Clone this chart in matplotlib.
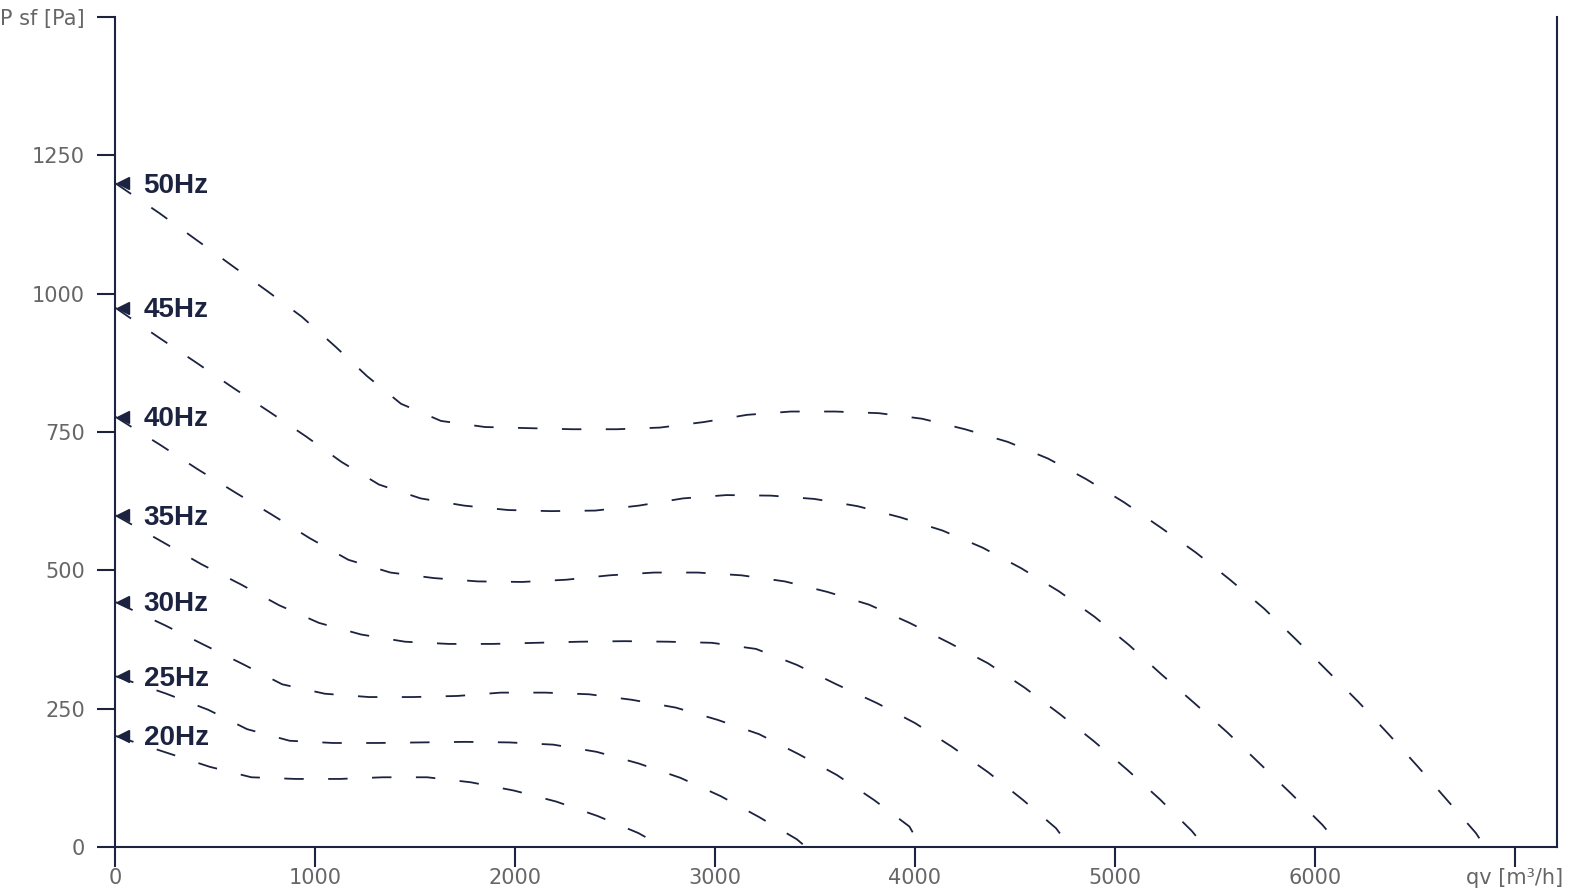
import matplotlib
matplotlib.use("Agg")
import matplotlib.pyplot as plt
import matplotlib.transforms as mtransforms

# ---- data ----
freq_labels = ["50Hz", "45Hz", "40Hz", "35Hz", "30Hz", "25Hz", "20Hz"]

f50_x = [0, 220, 400, 580, 760, 935, 1100, 1260, 1430, 1630, 1850, 2065, 2285, 2510, 2725, 2945,
         3160, 3380, 3600, 3820, 4035, 4250, 4465, 4665, 4855, 5045, 5230, 5405, 5575, 5745, 5905,
         6060, 6215, 6365, 6515, 6660, 6805, 6850]
f50_y = [1200, 1146, 1099, 1052, 1005, 958, 905, 851, 801, 770, 759, 757, 755, 755, 758, 768,
         781, 787, 787, 784, 774, 755, 732, 702, 665, 623, 577, 532, 483, 431, 375,
         319, 263, 205, 145, 85, 25, 0]

f45_x = [0, 222, 404, 586, 774, 955, 1132, 1320, 1528, 1745, 1965, 2180, 2402, 2620, 2840, 3057,
         3280, 3498, 3712, 3925, 4137, 4338, 4530, 4720, 4898, 5070, 5232, 5397, 5562, 5723, 5882,
         6037, 6130]
f45_y = [975, 920, 876, 831, 786, 742, 696, 655, 630, 617, 609, 607, 608, 617, 630, 636,
         635, 629, 616, 596, 572, 541, 504, 462, 416, 365, 312, 260, 207, 151, 96,
         40, 0]

f40_x = [0, 229, 412, 600, 787, 974, 1167, 1377, 1595, 1813, 2035, 2255, 2473, 2695, 2914, 3132,
         3349, 3562, 3770, 3973, 4171, 4365, 4548, 4725, 4895, 5063, 5225, 5384, 5450]
f40_y = [778, 726, 683, 641, 600, 558, 519, 496, 486, 480, 479, 483, 491, 496, 496, 491,
         480, 461, 438, 405, 369, 332, 288, 240, 191, 139, 86, 29, 0]

f35_x = [0, 239, 432, 627, 820, 1020, 1231, 1450, 1669, 1887, 2105, 2325, 2547, 2767, 2985, 3205,
         3410, 3607, 3810, 4000, 4185, 4366, 4540, 4705, 4775]
f35_y = [600, 551, 511, 475, 437, 405, 384, 371, 367, 367, 369, 371, 372, 371, 369, 358,
         329, 294, 260, 224, 181, 135, 85, 34, 0]

f30_x = [0, 248, 447, 642, 836, 1049, 1270, 1490, 1713, 1929, 2152, 2370, 2585, 2803, 3011, 3220,
         3417, 3610, 3795, 3972, 4030]
f30_y = [443, 401, 365, 330, 294, 277, 271, 271, 273, 279, 279, 276, 266, 252, 230, 204,
         168, 130, 85, 37, 0]

f25_x = [0, 257, 466, 660, 873, 1090, 1311, 1530, 1750, 1970, 2191, 2408, 2618, 2827, 3028, 3221,
         3409, 3455]
f25_y = [309, 277, 248, 213, 192, 188, 188, 189, 190, 189, 185, 172, 151, 125, 92, 54,
         14, 0]

f20_x = [0, 262, 473, 682, 903, 1122, 1340, 1561, 1778, 1995, 2207, 2413, 2618, 2740]
f20_y = [201, 170, 145, 126, 123, 123, 126, 126, 117, 102, 82, 56, 25, 0]

series_x = [f50_x, f45_x, f40_x, f35_x, f30_x, f25_x, f20_x]
series_y = [f50_y, f45_y, f40_y, f35_y, f30_y, f25_y, f20_y]

x_ticks = [0, 1000, 2000, 3000, 4000, 5000, 6000, 7000]
x_tick_labels = ["0", "1000", "2000", "3000", "4000", "5000", "6000", "qv [m\u00b3/h]"]
y_ticks = [0, 250, 500, 750, 1000, 1250, 1500]
y_tick_labels = ["0", "250", "500", "750", "1000", "1250", "P sf [Pa]"]

# ---- style ----
NAVY = "#1b2340"
GREY = "#666666"
W, H = 1570, 896
plt.rcParams["font.family"] = ["DejaVu Sans"]
plt.rcParams["lines.scale_dashes"] = False

fig = plt.figure(figsize=(W / 100, H / 100), dpi=100)
ax = fig.add_axes([115 / W, (H - 847) / H, (1557 - 115) / W, (847 - 17) / H])
ax.set_xlim(0, 7210)
ax.set_ylim(0, 1500)

for sx, sy, lab in zip(series_x, series_y, freq_labels):
    ax.plot(sx, sy, color=NAVY, lw=1.3, dashes=(14.0, 17.6), solid_capstyle="butt",
            dash_capstyle="butt")
    off = mtransforms.ScaledTranslation(8 / 100, 0, fig.dpi_scale_trans)
    ax.plot([sx[0]], [sy[0]], marker="<", markersize=9, color=NAVY, linestyle="none",
            transform=ax.transData + off, clip_on=False, zorder=5)
    ax.annotate(lab, xy=(sx[0], sy[0]), xytext=(20.6, -6.9), textcoords="offset points",
                ha="left", va="baseline", fontsize=20, fontweight="bold", color=NAVY,
                family="Liberation Sans", annotation_clip=False)

for side in ["left", "bottom", "right"]:
    ax.spines[side].set_color(NAVY)
    ax.spines[side].set_linewidth(1.5)
ax.spines["top"].set_visible(False)

ax.set_xticks(x_ticks)
ax.set_xticklabels(x_tick_labels)
ax.set_yticks(y_ticks)
ax.set_yticklabels(y_tick_labels)
ax.tick_params(axis="x", direction="out", length=14.4, width=1.5, color=NAVY,
               labelcolor=GREY, labelsize=15, pad=1)
ax.tick_params(axis="y", direction="out", length=13, width=1.5, color=NAVY,
               labelcolor=GREY, labelsize=15, pad=8.6)

fig.savefig("out.png", dpi=100, facecolor="white")
